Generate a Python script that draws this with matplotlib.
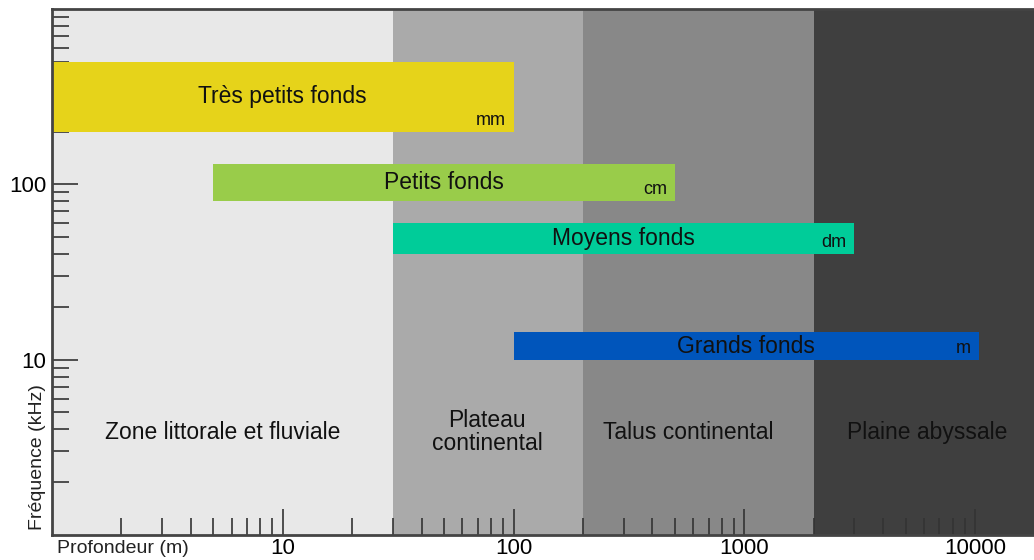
import matplotlib
matplotlib.use("Agg")
import matplotlib.pyplot as plt
from matplotlib.ticker import LogLocator, NullFormatter, FixedLocator, FixedFormatter

plt.rcParams['font.family'] = ['Liberation Sans', 'DejaVu Sans']

# Depth zones (m)
zone_names = ["Zone littorale et fluviale", "Plateau\ncontinental",
              "Talus continental", "Plaine abyssale"]
zone_start = [1, 30, 200, 2000]
zone_end = [30, 200, 2000, 18000]
zone_colors = ["#e8e8e8", "#aaaaaa", "#888888", "#3f3f3f"]
zone_label_x = [5.5, 77, 570, 6200]
zone_label_y = 3.85

# Sonar categories: depth span (m) and frequency span (kHz)
cat_names = ["Très petits fonds", "Petits fonds", "Moyens fonds", "Grands fonds"]
cat_units = ["mm", "cm", "dm", "m"]
depth_min = [1, 5, 30, 100]
depth_max = [100, 500, 3000, 10400]
freq_min = [200, 80, 40, 10]
freq_max = [500, 130, 60, 14.3]
cat_colors = ["#e6d31a", "#99cc4a", "#00cc99", "#0055bb"]

x_ticks = [10, 100, 1000, 10000]
x_tick_labels = ["10", "100", "1000", "10000"]
y_ticks = [10, 100]
y_tick_labels = ["10", "100"]

fig = plt.figure(figsize=(10.34, 5.6), dpi=100)
ax = fig.add_axes([0.0503, 0.0446, 0.9497, 0.9394])
ax.set_xscale("log")
ax.set_yscale("log")
ax.set_xlim(1, 18000)
ax.set_ylim(1, 1000)

for x0, x1, c in zip(zone_start, zone_end, zone_colors):
    ax.axvspan(x0, x1, color=c, lw=0, zorder=0)

for name, lx in zip(zone_names, zone_label_x):
    ax.text(lx, zone_label_y, name, ha="center", va="center", fontsize=16.5,
            color="#111111", linespacing=1.0, zorder=3)

for name, unit, d0, d1, f0, f1, c in zip(cat_names, cat_units, depth_min, depth_max,
                                         freq_min, freq_max, cat_colors):
    ax.fill_between([d0, d1], f0, f1, color=c, lw=0, zorder=2)
    # label centred on the bar in log space
    xc = (d0 * d1) ** 0.5
    yc = (f0 * f1) ** 0.5
    ax.text(xc, yc, name, ha="center", va="center", fontsize=16.5, color="#111111", zorder=3)
    ax.annotate(unit, xy=(d1, f0), xytext=(-8, 3), textcoords="offset pixels",
                ha="right", va="bottom", fontsize=13, color="#111111", zorder=3)

# Ticks drawn inside the frame
ax.xaxis.set_major_locator(FixedLocator(x_ticks))
ax.xaxis.set_major_formatter(FixedFormatter(x_tick_labels))
ax.yaxis.set_major_locator(FixedLocator(y_ticks))
ax.yaxis.set_major_formatter(FixedFormatter(y_tick_labels))
ax.xaxis.set_minor_locator(LogLocator(base=10, subs=range(2, 10)))
ax.yaxis.set_minor_locator(LogLocator(base=10, subs=range(2, 10)))
ax.xaxis.set_minor_formatter(NullFormatter())
ax.yaxis.set_minor_formatter(NullFormatter())
ax.tick_params(axis="both", which="major", direction="in", length=19, width=1.2,
               color="#333333", labelsize=16, pad=4)
ax.tick_params(axis="both", which="minor", direction="in", length=12.5, width=1.2,
               color="#333333")
ax.tick_params(axis="x", which="major", pad=2)
ax.tick_params(axis="y", which="major", pad=4)
for t in ax.get_xticklines(minor=False) + ax.get_xticklines(minor=True):
    t.set_zorder(4)

for side in ["top", "left", "bottom"]:
    ax.spines[side].set_linewidth(2)
    ax.spines[side].set_color("#444444")
    ax.spines[side].set_zorder(5)
ax.spines["right"].set_visible(False)

fig.text(0.055, 0.021, "Profondeur (m)", fontsize=14, color="#222222",
         ha="left", va="center")
fig.text(0.036, 0.183, "Fréquence (kHz)", fontsize=14, color="#222222",
         rotation=90, ha="center", va="center")

fig.savefig("out.png", dpi=100)
